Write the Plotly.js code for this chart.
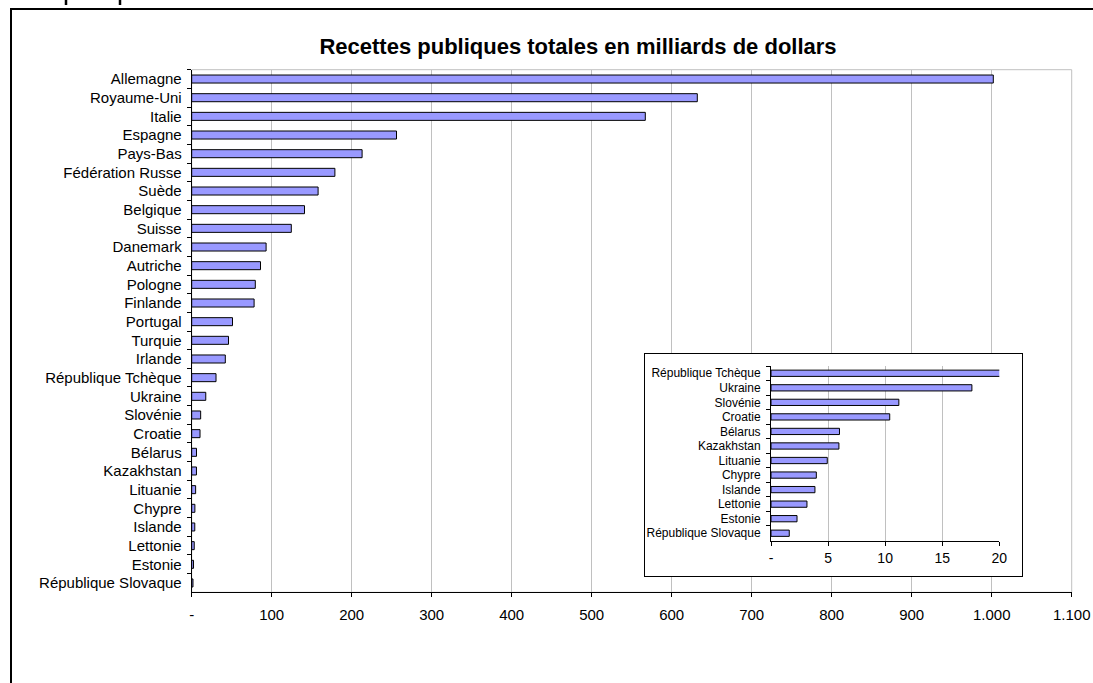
<!DOCTYPE html>
<html>
<head>
<meta charset="utf-8">
<script src="https://cdn.plot.ly/plotly-3.0.1.min.js"></script>
<style>html,body{margin:0;padding:0;background:#fff;}#chart{width:1093px;height:683px;}</style>
</head>
<body>
<div id="chart"></div>
<script>
const chartTitle = "Recettes publiques totales en milliards de dollars";
const countries = ["Allemagne","Royaume-Uni","Italie","Espagne","Pays-Bas","Fédération Russe","Suède","Belgique","Suisse","Danemark","Autriche","Pologne","Finlande","Portugal","Turquie","Irlande","République Tchèque","Ukraine","Slovénie","Croatie","Bélarus","Kazakhstan","Lituanie","Chypre","Islande","Lettonie","Estonie","République Slovaque"];
const revenues = [1002, 632, 567, 256, 213, 179, 158, 141, 124.5, 93, 86, 79.5, 78, 51, 46, 42, 30.4, 17.6, 11.2, 10.4, 6.0, 5.95, 4.93, 3.97, 3.85, 3.15, 2.28, 1.6];
const mainTickVals = [0,100,200,300,400,500,600,700,800,900,1000,1100];
const mainTickText = ["-","100","200","300","400","500","600","700","800","900","1.000","1.100"];
const insetStart = 16;
const insetCountries = countries.slice(insetStart);
const insetRevenues = revenues.slice(insetStart);
const insetTickVals = [0,5,10,15,20];
const insetTickText = ["-","5","10","15","20"];

const FONT = 'Arial, "Liberation Sans", sans-serif';
const W = 1093, H = 683;
const px = v => v / W;
const py = v => 1 - v / H;

const barStyle = {color:'#9999FF', line:{color:'#000000', width:1}};

const traces = [
  {type:'bar', orientation:'h', x:revenues, y:countries, xaxis:'x', yaxis:'y', marker:barStyle, hoverinfo:'x+y'},
  {type:'scatter', mode:'markers', x:[], y:[], xaxis:'x2', yaxis:'y2', hoverinfo:'skip'},
  {type:'bar', orientation:'h', x:insetRevenues, y:insetCountries, xaxis:'x3', yaxis:'y3', marker:barStyle, hoverinfo:'x+y'}
];

const layout = {
  width:W, height:H,
  margin:{l:0,r:0,t:0,b:0},
  paper_bgcolor:'#ffffff', plot_bgcolor:'#ffffff',
  showlegend:false,
  bargap:0.57,
  font:{family:FONT, color:'#000000'},
  title:{text:'<b>'+chartTitle+'</b>', font:{family:FONT, size:22, color:'#000'}, xref:'paper', x:px(578), xanchor:'center', yref:'paper', y:py(46), yanchor:'middle'},
  xaxis:{domain:[px(191.7), px(1071.7)], anchor:'y', range:[0,1100], tickmode:'array', tickvals:mainTickVals, ticktext:mainTickText,
    showgrid:true, gridcolor:'#c0c0c0', gridwidth:1, zeroline:false, showline:true, linecolor:'#000', linewidth:1,
    ticks:'outside', ticklen:4, tickcolor:'#000', tickfont:{size:15, family:FONT}, ticklabelstandoff:5, fixedrange:true},
  yaxis:{domain:[py(592.3), py(69.7)], anchor:'x', type:'category', autorange:'reversed', showgrid:false, zeroline:false,
    showline:true, linecolor:'#000', linewidth:1, ticks:'outside', tickson:'boundaries', ticklen:4, tickcolor:'#000',
    tickfont:{size:15, family:FONT}, ticklabelstandoff:6, fixedrange:true},
  xaxis2:{domain:[px(645), px(1022)], anchor:'y2', range:[0,1], showline:true, mirror:true, linecolor:'#000', linewidth:1,
    showticklabels:false, ticks:'', showgrid:false, zeroline:false, fixedrange:true},
  yaxis2:{domain:[py(576), py(354)], anchor:'x2', range:[0,1], showline:true, mirror:true, linecolor:'#000', linewidth:1,
    showticklabels:false, ticks:'', showgrid:false, zeroline:false, fixedrange:true},
  xaxis3:{domain:[px(771), px(999.3)], anchor:'y3', range:[0,20], tickmode:'array', tickvals:insetTickVals, ticktext:insetTickText,
    showgrid:true, gridcolor:'#c0c0c0', gridwidth:1, zeroline:false, showline:true, linecolor:'#000', linewidth:1,
    ticks:'outside', ticklen:4, tickcolor:'#000', tickfont:{size:14, family:FONT}, ticklabelstandoff:1, fixedrange:true},
  yaxis3:{domain:[py(540.5), py(366)], anchor:'x3', type:'category', autorange:'reversed', showgrid:false, zeroline:false,
    showline:true, linecolor:'#000', linewidth:1, ticks:'outside', tickson:'boundaries', ticklen:4, tickcolor:'#000',
    tickfont:{size:12, family:FONT}, ticklabelstandoff:7, fixedrange:true},
  shapes:[
    {type:'rect', xref:'x domain', yref:'y domain', x0:0, x1:1, y0:0, y1:1, line:{color:'#c0c0c0', width:1}, fillcolor:'rgba(0,0,0,0)', layer:'below'},
    {type:'path', xref:'paper', yref:'paper', path:'M '+px(11)+' '+py(683)+' L '+px(11)+' '+py(9)+' L '+px(1093)+' '+py(9), line:{color:'#000', width:2}},
    {type:'line', xref:'paper', yref:'paper', x0:px(66), x1:px(66), y0:py(0), y1:py(5), line:{color:'#000', width:2.5}},
    {type:'line', xref:'paper', yref:'paper', x0:px(120), x1:px(120), y0:py(0), y1:py(5), line:{color:'#000', width:2.5}}
  ]
};

Plotly.newPlot('chart', traces, layout, {displayModeBar:false, staticPlot:true});
</script>
</body>
</html>
